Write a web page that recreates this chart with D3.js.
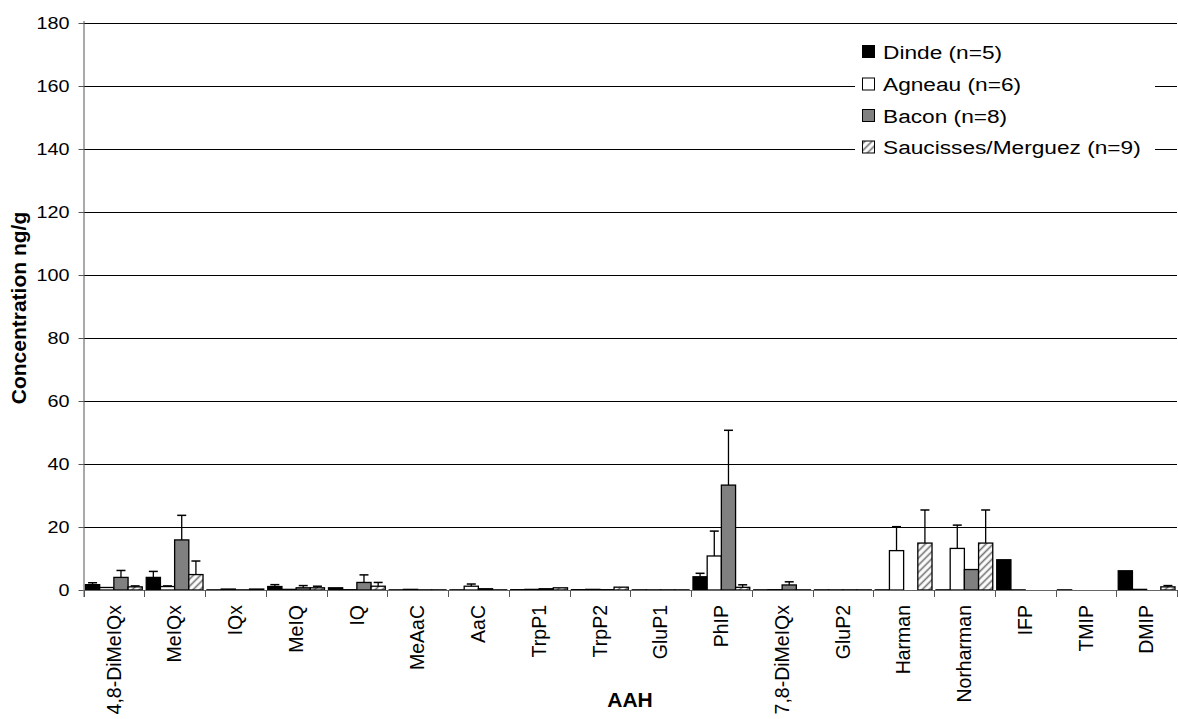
<!DOCTYPE html>
<html>
<head>
<meta charset="utf-8">
<script src="https://cdn.jsdelivr.net/npm/d3@7"></script>
<style>
  html, body { margin: 0; padding: 0; background: #fff; }
  svg { display: block; font-family: "Liberation Sans", Arial, sans-serif; }
</style>
</head>
<body>
<svg id="chart" width="1178" height="719"></svg>
<script>
const categories = ["4,8-DiMeIQx","MeIQx","IQx","MeIQ","IQ","MeAaC","AaC","TrpP1","TrpP2","GluP1","PhIP","7,8-DiMeIQx","GluP2","Harman","Norharman","IFP","TMIP","DMIP"];
const seriesNames = ["Dinde (n=5)","Agneau (n=6)","Bacon (n=8)","Saucisses/Merguez (n=9)"];
const dinde        = [1.7, 4.0, 0.05, 1.1, 0.7, 0.05, 0.05, 0.1, 0.1, 0.05, 4.2, 0.05, 0.05, 0.05, 0.05, 9.6, 0.05, 6.1];
const dindeErr     = [0.6, 1.9, 0, 0.6, 0, 0, 0, 0, 0, 0, 1.1, 0, 0, 0, 0, 0, 0, 0];
const agneau       = [0.8, 1.1, 0.3, 0.2, 0.1, 0.2, 1.2, 0.2, 0.2, 0.05, 10.8, 0.1, 0.05, 12.5, 13.2, 0.05, 0, 0.2];
const agneauErr    = [0, 0.2, 0, 0, 0, 0, 0.7, 0, 0, 0, 7.9, 0, 0, 7.6, 7.4, 0, 0, 0];
const bacon        = [4.0, 15.9, 0.05, 0.7, 2.4, 0.05, 0.4, 0.4, 0.1, 0.05, 33.3, 1.6, 0.05, 0, 6.5, 0, 0, 0];
const baconErr     = [2.2, 7.8, 0, 0.7, 2.4, 0, 0, 0, 0, 0, 17.4, 1.0, 0, 0, 0, 0, 0, 0];
const saucisses    = [1.0, 4.9, 0.3, 0.7, 1.2, 0.05, 0.05, 0.7, 0.9, 0.05, 0.85, 0.05, 0.05, 14.9, 14.9, 0, 0, 1.0];
const saucissesErr = [0.3, 4.3, 0, 0.5, 1.2, 0, 0, 0, 0, 0, 0.8, 0, 0, 10.5, 10.5, 0, 0, 0.4];
const yTicks = [0, 20, 40, 60, 80, 100, 120, 140, 160, 180];

const values = [dinde, agneau, bacon, saucisses];
const errors = [dindeErr, agneauErr, baconErr, saucissesErr];
const fills = ["#000000", "#ffffff", "#808080", "url(#hatch)"];

const svg = d3.select("#chart");
const pLeft = 83.5, pRight = 1177, pTop = 23, pBottom = 590;

const defs = svg.append("defs");
const pat = defs.append("pattern").attr("id", "hatch").attr("patternUnits", "userSpaceOnUse")
  .attr("width", 5).attr("height", 5).attr("patternTransform", "rotate(45)");
pat.append("rect").attr("width", 5).attr("height", 5).attr("fill", "#fff");
pat.append("line").attr("x1", 1.5).attr("y1", 0).attr("x2", 1.5).attr("y2", 5)
  .attr("stroke", "#6e6e6e").attr("stroke-width", 1.6);

const x0 = d3.scaleBand().domain(categories).range([pLeft, pRight]).paddingInner(0).paddingOuter(0);
const x1 = d3.scaleBand().domain(d3.range(4)).range([0, x0.bandwidth()]).paddingOuter(0.14).paddingInner(0);
const y = d3.scaleLinear().domain([0, 180]).range([pBottom, pTop]);

// grid lines
svg.append("g").selectAll("line").data(yTicks.filter(d => d > 0)).join("line")
  .attr("x1", pLeft).attr("x2", pRight)
  .attr("y1", d => Math.round(y(d)) + 0.5).attr("y2", d => Math.round(y(d)) + 0.5)
  .attr("stroke", "#000").attr("stroke-width", 1);

// y axis
const yAxis = svg.append("g").attr("transform", `translate(${pLeft},0)`)
  .call(d3.axisLeft(y).tickValues(yTicks).tickSize(5).tickSizeOuter(0));
yAxis.select(".domain").attr("stroke", "#555").attr("d", `M0.5,${pTop - 2}V${pBottom + 7}`);
yAxis.selectAll(".tick line").attr("stroke", "#555");
yAxis.selectAll(".tick text")
  .attr("x", null).attr("dy", "0.34em")
  .attr("transform", "translate(-14,0) scale(1.2,1)")
  .attr("font-size", 16.5).attr("font-family", "Liberation Sans, Arial, sans-serif").attr("fill", "#000");

// bars
const groups = svg.append("g").selectAll("g").data(categories).join("g")
  .attr("transform", d => `translate(${x0(d)},0)`);
groups.each(function(cat, ci) {
  const g = d3.select(this);
  for (let s = 0; s < 4; s++) {
    const v = values[s][ci];
    if (v <= 0) continue;
    g.append("rect")
      .attr("x", x1(s)).attr("width", x1.bandwidth())
      .attr("y", y(v)).attr("height", Math.max(0, y(0) - y(v)))
      .attr("fill", fills[s]).attr("stroke", "#000").attr("stroke-width", 1.3);
  }
  for (let s = 0; s < 4; s++) {
    const v = values[s][ci], e = errors[s][ci];
    if (e <= 0) continue;
    const cx = x1(s) + x1.bandwidth() / 2;
    g.append("line").attr("x1", cx).attr("x2", cx).attr("y1", y(v)).attr("y2", y(v + e))
      .attr("stroke", "#000").attr("stroke-width", 1.3);
    g.append("line").attr("x1", cx - 4.5).attr("x2", cx + 4.5).attr("y1", y(v + e)).attr("y2", y(v + e))
      .attr("stroke", "#000").attr("stroke-width", 1.5);
  }
});

// x axis
const xAxis = svg.append("g").attr("transform", `translate(0,${pBottom})`);
xAxis.append("line").attr("x1", pLeft).attr("x2", pRight).attr("y1", 0.5).attr("y2", 0.5)
  .attr("stroke", "#666").attr("stroke-width", 1.2);
xAxis.selectAll("line.tk").data(categories.map(c => x0(c)).concat([pRight])).join("line")
  .attr("class", "tk")
  .attr("x1", d => Math.round(d) + 0.5).attr("x2", d => Math.round(d) + 0.5)
  .attr("y1", 0).attr("y2", 7).attr("stroke", "#555");
xAxis.selectAll("text").data(categories).join("text")
  .attr("transform", d => `translate(${x0(d) + x0.bandwidth() / 2},15) rotate(-90)`)
  .attr("text-anchor", "end").attr("dy", "0.35em")
  .attr("font-size", 19.5).attr("fill", "#000")
  .text(d => d);

// axis titles
svg.append("text").attr("x", 630).attr("y", 707).attr("text-anchor", "middle")
  .attr("font-size", 21).attr("font-weight", "bold").text("AAH");
svg.append("text").attr("transform", "translate(26,308) rotate(-90)").attr("text-anchor", "middle")
  .attr("font-size", 21).attr("font-weight", "bold").text("Concentration ng/g");

// legend
const legend = svg.append("g");
legend.append("rect").attr("x", 855).attr("y", 32).attr("width", 300).attr("height", 134).attr("fill", "#fff");
const rowY = [52, 84.5, 116, 147.5];
seriesNames.forEach((name, i) => {
  legend.append("rect").attr("x", 862.5).attr("y", rowY[i] - 6.5).attr("width", 12).attr("height", 12)
    .attr("fill", fills[i]).attr("stroke", "#000").attr("stroke-width", 1);
  legend.append("text")
    .attr("transform", `translate(883,${rowY[i]}) scale(1.22,1)`)
    .attr("dy", "0.35em").attr("font-size", 18.6).attr("fill", "#000").text(name);
});
</script>
</body>
</html>
